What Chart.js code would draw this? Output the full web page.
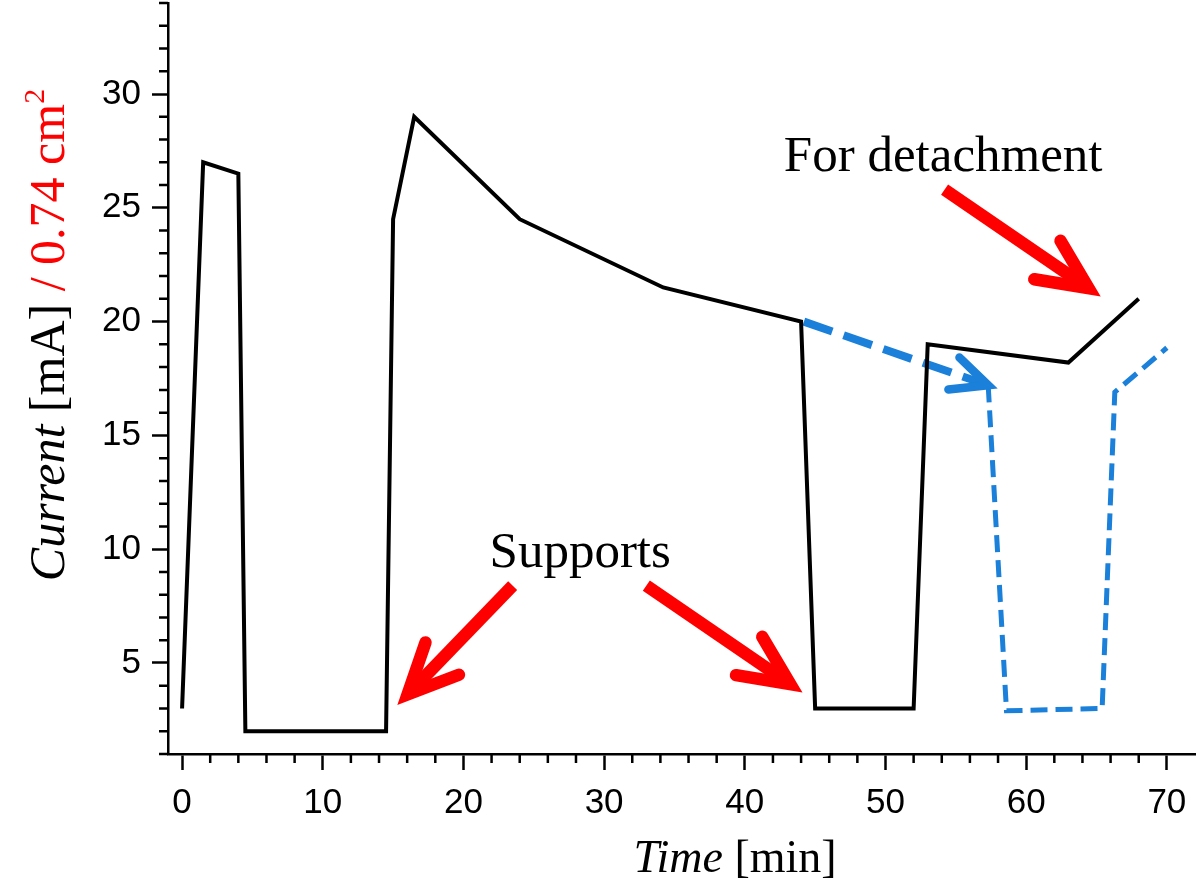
<!DOCTYPE html>
<html>
<head>
<meta charset="utf-8">
<title>Current vs Time</title>
<script src="https://cdn.jsdelivr.net/npm/chart.js@4.4.1/dist/chart.umd.min.js"></script>
<style>
  html, body { margin: 0; padding: 0; background: #fff; }
</style>
</head>
<body>
<canvas id="chart" width="1200" height="891"></canvas>
<script>
// measured current (black solid line)
const blackTime    = [0, 1.5, 4.0, 4.5, 14.5, 15.0, 16.5, 24.0, 34.2, 44.0, 45.0, 52.0, 53.0, 63.0, 68.0];
const blackCurrent = [3.0, 27.0, 26.5, 2.0, 2.0, 24.5, 29.0, 24.5, 21.5, 20.0, 3.0, 3.0, 19.0, 18.2, 21.0];

// blue dashed: thick arrow part, then the thinner continuation
const arrowTime    = [44.2, 57.3];
const arrowCurrent = [20.0, 17.2];
const blueTime     = [57.3, 58.6, 65.4, 66.3, 70.0];
const blueCurrent  = [17.2, 2.9, 3.0, 16.9, 18.85];

// axes
const xMajorTicks = [0, 10, 20, 30, 40, 50, 60, 70];
const yMajorTicks = [5, 10, 15, 20, 25, 30];
const xMinorStep = 2;
const yMinorStep = 1;
const X_MIN = -1, X_MAX = 72;
const Y_MIN = 1, Y_MAX = 34;

// annotation text + red arrows, in data units
const notes = [
    { text: 'Supports', x: 28.3, y: 9.2 },
    { text: 'For detachment', x: 54.1, y: 26.6 }
];
const redArrows = [
    { from: [23.5, 8.4], to: [15.3, 3.15] },
    { from: [33.0, 8.4], to: [44.1, 3.7] },
    { from: [54.2, 25.8], to: [65.3, 21.1] }
];

const BLUE = '#1a80d9';
const RED = '#ff0000';
const SERIF = '"Liberation Serif", "Times New Roman", serif';
const SANS = '"Liberation Sans", Arial, sans-serif';
const MAJOR_LEN = 16;
const MINOR_LEN = 9;

const pts = (xs, ys) => xs.map((v, i) => ({ x: v, y: ys[i] }));

/**
 * Arrow with a chevron head; (x2, y2) is the outer tip
 */
function drawArrow(ctx, x1, y1, x2, y2, width, armLen, color) {
    const ang = Math.atan2(y2 - y1, x2 - x1);
    const spread = 25 * Math.PI / 180;
    const back = (width / 2) / Math.sin(spread);
    const vx = x2 - back * Math.cos(ang);
    const vy = y2 - back * Math.sin(ang);
    ctx.save();
    ctx.strokeStyle = color;
    ctx.lineWidth = width;
    ctx.setLineDash([]);
    // shaft
    ctx.lineCap = 'butt';
    ctx.beginPath();
    ctx.moveTo(x1, y1);
    ctx.lineTo(vx - width * 0.4 * Math.cos(ang), vy - width * 0.4 * Math.sin(ang));
    ctx.stroke();
    // head
    ctx.lineCap = 'round';
    ctx.lineJoin = 'miter';
    ctx.miterLimit = 10;
    ctx.beginPath();
    ctx.moveTo(vx + armLen * Math.cos(ang + Math.PI - spread), vy + armLen * Math.sin(ang + Math.PI - spread));
    ctx.lineTo(vx, vy);
    ctx.lineTo(vx + armLen * Math.cos(ang + Math.PI + spread), vy + armLen * Math.sin(ang + Math.PI + spread));
    ctx.stroke();
    ctx.restore();
}

function drawRuns(ctx, runs, cx, baseline) {
    let total = 0;
    runs.forEach(r => { ctx.font = r.font; r.w = ctx.measureText(r.text).width; total += r.w; });
    let pos = cx - total / 2;
    runs.forEach(r => {
        ctx.font = r.font;
        ctx.fillStyle = r.color;
        ctx.fillText(r.text, pos, baseline + (r.dy || 0));
        pos += r.w;
    });
}

const decorations = {
    id: 'decorations',
    afterDatasetsDraw(chart) {
        const { ctx, scales: { x, y } } = chart;
        ctx.save();

        // minor ticks
        ctx.strokeStyle = '#000';
        ctx.lineWidth = 2.5;
        ctx.beginPath();
        for (let v = 0; v <= 70; v += xMinorStep) {
            if (xMajorTicks.includes(v)) continue;
            const px = x.getPixelForValue(v);
            ctx.moveTo(px, x.top);
            ctx.lineTo(px, x.top + MINOR_LEN);
        }
        for (let v = Y_MIN; v <= Y_MAX; v += yMinorStep) {
            if (yMajorTicks.includes(v)) continue;
            const py = y.getPixelForValue(v);
            ctx.moveTo(y.right, py);
            ctx.lineTo(y.right - MINOR_LEN, py);
        }
        ctx.stroke();

        // blue arrowhead at the end of the thick dashed segment
        const a = chart.getDatasetMeta(1).data;
        const p0 = a[0], p1 = a[a.length - 1];
        const ang = Math.atan2(p1.y - p0.y, p1.x - p0.x);
        ctx.strokeStyle = BLUE;
        ctx.lineWidth = 8.5;
        ctx.lineCap = 'round';
        ctx.lineJoin = 'miter';
        ctx.setLineDash([]);
        const sp = 25 * Math.PI / 180, arm = 40;
        ctx.beginPath();
        ctx.moveTo(p1.x + arm * Math.cos(ang + Math.PI - sp), p1.y + arm * Math.sin(ang + Math.PI - sp));
        ctx.lineTo(p1.x, p1.y);
        ctx.lineTo(p1.x + arm * Math.cos(ang + Math.PI + sp), p1.y + arm * Math.sin(ang + Math.PI + sp));
        ctx.stroke();

        // red arrows
        redArrows.forEach(r => {
            drawArrow(ctx,
                x.getPixelForValue(r.from[0]), y.getPixelForValue(r.from[1]),
                x.getPixelForValue(r.to[0]), y.getPixelForValue(r.to[1]),
                12.5, 55, RED);
        });

        // annotation texts
        ctx.fillStyle = '#000';
        ctx.font = '51px ' + SERIF;
        ctx.textAlign = 'center';
        ctx.textBaseline = 'alphabetic';
        notes.forEach(n => ctx.fillText(n.text, x.getPixelForValue(n.x), y.getPixelForValue(n.y)));
        ctx.restore();
    },
    afterDraw(chart) {
        const { ctx } = chart;
        ctx.save();
        ctx.textAlign = 'left';
        ctx.textBaseline = 'alphabetic';

        // x title
        drawRuns(ctx, [
            { text: 'Time', font: 'italic 46px ' + SERIF, color: '#000' },
            { text: ' [min]', font: '46px ' + SERIF, color: '#000' }
        ], 735, 872);

        // y title (rotated)
        ctx.translate(64, 335);
        ctx.rotate(-Math.PI / 2);
        drawRuns(ctx, [
            { text: 'Current', font: 'italic 50px ' + SERIF, color: '#000' },
            { text: ' [mA] ', font: '50px ' + SERIF, color: '#000' },
            { text: '/ 0.74 cm', font: '50px ' + SERIF, color: RED },
            { text: '2', font: '30px ' + SERIF, color: RED, dy: -20 }
        ], 0, 0);
        ctx.restore();
    }
};

function zeroPadding(scale) {
    scale.paddingTop = 0;
    scale.paddingBottom = 0;
    scale.paddingLeft = 0;
    scale.paddingRight = 0;
}

const chart = new Chart(document.getElementById('chart'), {
    type: 'line',
    data: {
        datasets: [
            {
                label: 'Current',
                data: pts(blackTime, blackCurrent),
                borderColor: '#000',
                borderWidth: 4,
                borderJoinStyle: 'miter',
                pointRadius: 0,
                tension: 0
            },
            {
                label: 'arrow',
                data: pts(arrowTime, arrowCurrent),
                borderColor: BLUE,
                borderWidth: 8,
                borderDash: [30, 12],
                pointRadius: 0,
                tension: 0
            },
            {
                label: 'continuation',
                data: pts(blueTime, blueCurrent),
                borderColor: BLUE,
                borderWidth: 5,
                borderDash: [17, 8],
                pointRadius: 0,
                tension: 0
            }
        ]
    },
    options: {
        responsive: false,
        animation: false,
        layout: { padding: { top: 3, right: 5, left: 0, bottom: 0 } },
        plugins: {
            legend: { display: false },
            tooltip: { enabled: false }
        },
        scales: {
            x: {
                type: 'linear',
                min: X_MIN,
                max: X_MAX,
                afterBuildTicks: s => { s.ticks = xMajorTicks.map(v => ({ value: v })); },
                afterFit: s => { s.height = 137; zeroPadding(s); },
                grid: { drawOnChartArea: false, tickLength: MAJOR_LEN, tickWidth: 2.5, tickColor: '#000' },
                border: { display: true, color: '#000', width: 2.5 },
                ticks: { color: '#000', padding: 12, maxRotation: 0, font: { family: SANS, size: 35 } }
            },
            y: {
                type: 'linear',
                min: Y_MIN,
                max: Y_MAX,
                afterBuildTicks: s => { s.ticks = yMajorTicks.map(v => ({ value: v })); },
                afterFit: s => { s.width = 168; zeroPadding(s); },
                grid: { drawOnChartArea: false, tickLength: MAJOR_LEN, tickWidth: 2.5, tickColor: '#000' },
                border: { display: true, color: '#000', width: 2.5 },
                ticks: { color: '#000', padding: 11, font: { family: SANS, size: 35 } }
            }
        }
    },
    plugins: [decorations]
});
</script>
</body>
</html>
